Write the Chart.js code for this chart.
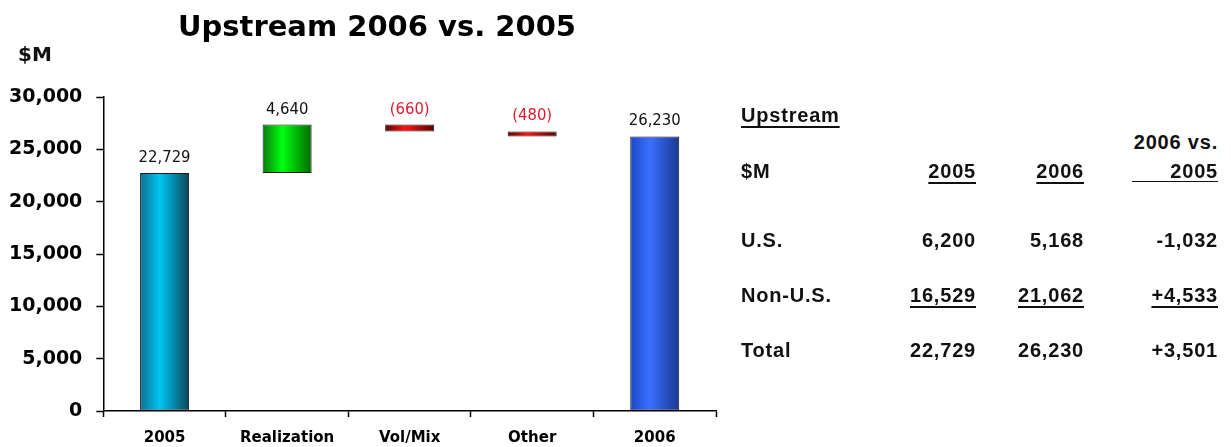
<!DOCTYPE html>
<html>
<head>
<meta charset="utf-8">
<script src="https://cdn.jsdelivr.net/npm/chart.js@4/dist/chart.umd.min.js"></script>
<style>
  body { margin: 0; background: #fff; width: 1231px; height: 447px; overflow: hidden; position: relative; }
  #wrap { position: absolute; left: 0; top: 0; width: 754px; height: 461px; }
  #tbl { position: absolute; left: 0; top: 0; font-family: "Liberation Sans", Arial, sans-serif; font-weight: bold; font-size: 20px; letter-spacing: 0.8px; color: #111; }
  #tbl div { position: absolute; white-space: nowrap; line-height: 24px; }
  .r { text-align: right; }
  .u { text-decoration: underline; text-decoration-thickness: 2px; text-underline-offset: 4px; }
</style>
</head>
<body>
<div id="wrap"><canvas id="c" width="754" height="461"></canvas></div>
<div id="tbl"></div>
<script>
"use strict";

// waterfall steps
const categories = ["2005", "Realization", "Vol/Mix", "Other", "2006"];
const stepValues = [22729, 4640, -660, -480, 26230];
const stepKinds = ["total", "up", "down", "down", "total"];
const yTicks = [0, 5000, 10000, 15000, 20000, 25000, 30000];

// table at the right
const tableRows = ["U.S.", "Non-U.S.", "Total"];
const values2005 = [6200, 16529, 22729];
const values2006 = [5168, 21062, 26230];
const valuesDiff = [-1032, 4533, 3501];

const fmt = v => v.toLocaleString("en-US");

// floating ranges for the bars
const ranges = [];
let run = 0;
stepValues.forEach((v, i) => {
  if (stepKinds[i] === "total") {
    ranges.push([0, v]);
    run = v;
  } else {
    ranges.push([run, run + v]);
    run += v;
  }
});

const gradStops = {
  0: ["#0d6f90", "#00c6f2", "#0b4658"],
  1: ["#0a7a0a", "#00ff10", "#006a00"],
  2: ["#5a0000", "#ff1414", "#5a0000"],
  3: ["#5a0000", "#ff1414", "#5a0000"],
  4: ["#1c48c8", "#3a70ff", "#1a3890"]
};

function barFill(ctx) {
  const chart = ctx.chart;
  const xs = chart.scales.x;
  if (!xs || !chart.chartArea) return gradStops[ctx.dataIndex][1];
  const cx = xs.getPixelForValue(ctx.dataIndex);
  const w = (xs.width / categories.length) * 0.4;
  const g = chart.ctx.createLinearGradient(cx - w / 2, 0, cx + w / 2, 0);
  const s = gradStops[ctx.dataIndex];
  g.addColorStop(0, s[0]);
  g.addColorStop(0.4, s[1]);
  g.addColorStop(1, s[2]);
  return g;
}

const valueLabels = {
  id: "valueLabels",
  afterDatasetsDraw(chart) {
    const c = chart.ctx;
    const meta = chart.getDatasetMeta(0);
    c.save();
    c.font = '16.5px "DejaVu Sans Condensed", "Liberation Sans Narrow", sans-serif';
    c.textAlign = "center";
    c.textBaseline = "bottom";
    meta.data.forEach((bar, i) => {
      const v = stepValues[i];
      const top = Math.min(bar.y, bar.base);
      c.fillStyle = v < 0 ? "#e3182c" : "#111";
      const txt = v < 0 ? "(" + fmt(-v) + ")" : fmt(v);
      c.fillText(txt, bar.x, top - 7);
    });
    // title and unit label
    c.fillStyle = "#000";
    c.textAlign = "center";
    c.textBaseline = "alphabetic";
    c.font = 'bold 29px "DejaVu Sans", sans-serif';
    c.fillText("Upstream 2006 vs. 2005", 377, 36);
    c.font = 'bold 20px "DejaVu Sans", sans-serif';
    c.fillStyle = "#111";
    c.textAlign = "left";
    c.textBaseline = "middle";
    c.fillText("$M", 18, 56);
    c.restore();
  }
};

new Chart(document.getElementById("c"), {
  type: "bar",
  data: {
    labels: categories,
    datasets: [{
      data: ranges,
      backgroundColor: barFill,
      borderColor: "#1a1a1a",
      borderWidth: 1,
      borderSkipped: false,
      categoryPercentage: 1,
      barPercentage: 0.4
    }]
  },
  options: {
    responsive: false,
    animation: false,
    devicePixelRatio: 1,
    layout: { padding: { left: -5, right: 38, top: 97, bottom: 2 } },
    plugins: {
      legend: { display: false },
      tooltip: { enabled: false },
      title: { display: false }
    },
    scales: {
      x: {
        border: { display: true, color: "#000", width: 1.5 },
        grid: { display: true, drawOnChartArea: false, color: "#000", tickLength: 6, tickWidth: 1.5 },
        ticks: { color: "#000", padding: 12, maxRotation: 0, autoSkip: false, font: { family: "DejaVu Sans", weight: "bold", size: 15 } }
      },
      y: {
        min: 0,
        max: 30000,
        afterBuildTicks: axis => { axis.ticks = yTicks.map(v => ({ value: v })); },
        border: { display: true, color: "#000", width: 1.5 },
        grid: { display: true, drawOnChartArea: false, color: "#000", tickLength: 7, tickWidth: 1.5 },
        ticks: {
          color: "#000",
          padding: 14,
          font: { family: "DejaVu Sans", weight: "bold", size: 19 },
          callback: v => fmt(v)
        }
      }
    }
  },
  plugins: [valueLabels]
});

// ---- table ----
const tbl = document.getElementById("tbl");
function put(text, x, yMid, opts) {
  const d = document.createElement("div");
  d.textContent = text;
  d.style.top = (yMid - 12) + "px";
  if (opts && opts.right) {
    d.style.left = (x - 200) + "px";
    d.style.width = "200px";
    d.className = "r";
  } else {
    d.style.left = x + "px";
  }
  if (opts && opts.cls) d.className += " " + opts.cls;
  tbl.appendChild(d);
  return d;
}
const colRight = [976, 1084, 1218];
put("Upstream", 741, 115, { cls: "u" });
put("2006 vs.", colRight[2], 142, { right: true });
put("$M", 741, 171);
put("2005", colRight[0], 171, { right: true, cls: "u" });
put("2006", colRight[1], 171, { right: true, cls: "u" });
const last = put("2005", colRight[2], 171, { right: true });
last.style.left = "1132px";
last.style.width = "86px";
last.style.borderBottom = "1.5px solid #111";
last.style.lineHeight = "20px";
last.style.top = "161px";

const rowY = [240, 295, 350];
tableRows.forEach((name, i) => {
  const u = i === 1 ? "u" : "";
  put(name, 741, rowY[i]);
  put(fmt(values2005[i]), colRight[0], rowY[i], { right: true, cls: u });
  put(fmt(values2006[i]), colRight[1], rowY[i], { right: true, cls: u });
  const d = valuesDiff[i];
  const s = (d > 0 ? "+" : "-") + fmt(Math.abs(d));
  put(s, colRight[2], rowY[i], { right: true, cls: u });
});
</script>
</body>
</html>
